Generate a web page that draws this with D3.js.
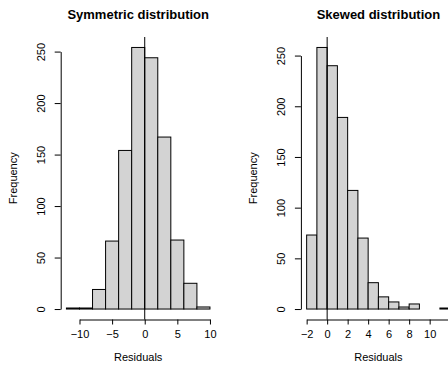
<!DOCTYPE html>
<html>
<head>
<meta charset="utf-8">
<script src="https://cdn.jsdelivr.net/npm/d3@7"></script>
<style>
  body { margin: 0; background: #fff; }
  svg { display: block; font-family: "Liberation Sans", Arial, sans-serif; }
</style>
</head>
<body>
<div id="chart"></div>
<script>
// symmetric residuals, bins of width 2 from -12 to 10
var symBreaks = [-12, -10, -8, -6, -4, -2, 0, 2, 4, 6, 8, 10];
var symCounts = [1, 1, 19, 66, 154, 254, 244, 167, 67, 25, 2];
var symXTicks = [-10, -5, 0, 5, 10];

// skewed residuals, bins of width 1 from -2 to 12
var skewBreaks = [-2, -1, 0, 1, 2, 3, 4, 5, 6, 7, 8, 9, 10, 11, 12];
var skewCounts = [73, 258, 240, 189, 117, 70, 26, 12, 7, 2, 5, 0, 0, 1];
var skewXTicks = [-2, 0, 2, 4, 6, 8, 10];

var yTicks = [0, 50, 100, 150, 200, 250];

var width = 448, height = 366;
var svg = d3.select('#chart').append('svg')
  .attr('width', width)
  .attr('height', height);

function drawHist(opts) {
  var breaks = opts.breaks, counts = opts.counts;
  var bins = counts.map(function (c, i) {
    return { x0: breaks[i], x1: breaks[i + 1], n: c };
  });
  var lo = breaks[0], hi = breaks[breaks.length - 1];
  var span = hi - lo;
  var ymax = d3.max(counts);
  var top = 37, bottom = 319.5;

  var x = d3.scaleLinear()
    .domain([lo - 0.04 * span, hi + 0.04 * span])
    .range([opts.left, opts.left + 155]);
  var y = d3.scaleLinear()
    .domain([-0.04 * ymax, 1.04 * ymax])
    .range([bottom, top]);

  var g = svg.append('g');

  g.selectAll('rect.bar')
    .data(bins)
    .enter()
    .append('rect')
    .attr('class', 'bar')
    .attr('x', function (d) { return x(d.x0); })
    .attr('width', function (d) { return x(d.x1) - x(d.x0); })
    .attr('y', function (d) { return y(d.n); })
    .attr('height', function (d) { return y(0) - y(d.n); })
    .style('fill', '#d3d3d3')
    .style('stroke', '#000')
    .style('stroke-width', 1);

  // abline(v = 0)
  g.append('line')
    .attr('x1', x(0)).attr('x2', x(0))
    .attr('y1', top).attr('y2', bottom)
    .style('stroke', '#000')
    .style('stroke-width', 1);

  // x axis, R style: line spans first to last tick
  var xa = opts.axisDomain;
  var xAxisScale = x.copy().domain(xa).range([x(xa[0]), x(xa[1])]);
  var gx = g.append('g')
    .attr('transform', 'translate(0,' + bottom + ')')
    .call(d3.axisBottom(xAxisScale)
      .tickValues(opts.xTicks)
      .tickSize(5)
      .tickSizeOuter(0)
      .tickPadding(6)
      .tickFormat(function (d) { return d < 0 ? '\u2212' + (-d) : d; }));
  gx.selectAll('text').style('font-size', '11px').attr('dy', '0.71em');

  // y axis
  var yAxisScale = y.copy().domain([0, 250]).range([y(0), y(250)]);
  var gy = g.append('g')
    .attr('transform', 'translate(' + (x.range()[0]) + ',0)')
    .call(d3.axisLeft(yAxisScale)
      .tickValues(yTicks)
      .tickSize(6)
      .tickSizeOuter(0));
  gy.selectAll('.tick text')
    .style('font-size', '11px')
    .style('text-anchor', 'middle')
    .attr('x', 0)
    .attr('dy', 0)
    .attr('transform', 'translate(-16,0) rotate(-90)');

  g.selectAll('.domain, .tick line').style('stroke', '#000');

  var cx = (x.range()[0] + x.range()[1]) / 2;
  g.append('text')
    .attr('x', cx)
    .attr('y', 19)
    .style('text-anchor', 'middle')
    .style('font-weight', 'bold')
    .style('font-size', '13px')
    .text(opts.title);

  g.append('text')
    .attr('x', cx)
    .attr('y', 361)
    .style('text-anchor', 'middle')
    .style('font-size', '11px')
    .text('Residuals');

  g.append('text')
    .attr('transform', 'translate(' + (x.range()[0] - 44) + ',' + ((top + bottom) / 2) + ') rotate(-90)')
    .style('text-anchor', 'middle')
    .style('font-size', '11px')
    .text('Frequency');
}

drawHist({
  breaks: symBreaks, counts: symCounts, xTicks: symXTicks,
  axisDomain: [-10, 10], left: 60.7, title: 'Symmetric distribution'
});
drawHist({
  breaks: skewBreaks, counts: skewCounts, xTicks: skewXTicks,
  axisDomain: [-2, 12], left: 300.9, title: 'Skewed distribution'
});
</script>
</body>
</html>
